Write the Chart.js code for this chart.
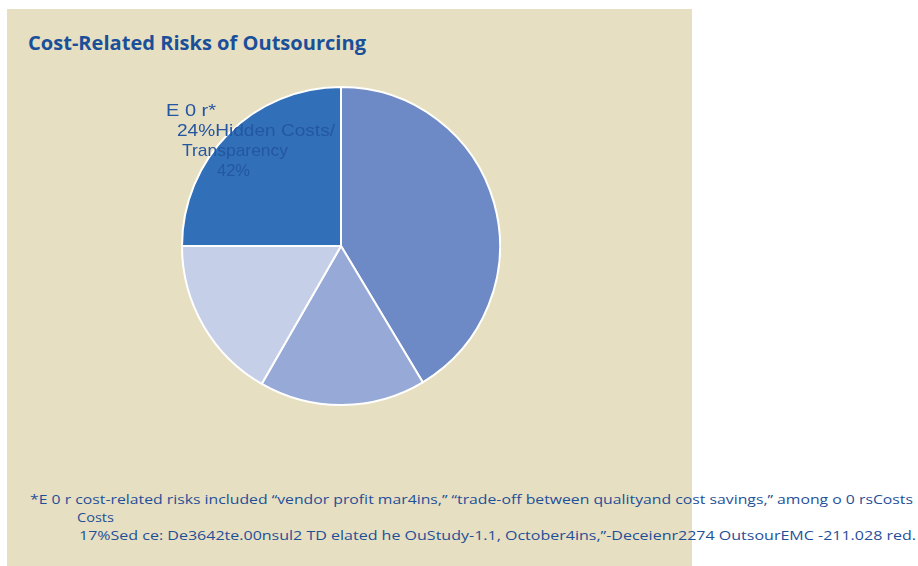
<!DOCTYPE html>
<html>
<head>
<meta charset="utf-8">
<script src="https://cdn.jsdelivr.net/npm/chart.js@4"></script>
<style>
  body { margin: 0; background: #fff; width: 918px; height: 566px; overflow: hidden; position: relative; font-family: "Open Sans", sans-serif; }
  #panel { position: absolute; left: 7px; top: 9px; width: 685px; height: 557px; background: #e6dfc1; }
  #chartBox { position: absolute; left: 181px; top: 86px; width: 320px; height: 320px; }
  .txt { position: absolute; white-space: nowrap; color: #1f4f99; transform-origin: 0 0; }
  #title { left: 28px; top: 30px; font-size: 19px; font-weight: bold; color: #1a4f9a; }
  .lbl { font-family: "Liberation Sans", sans-serif; font-size: 17px; line-height: 17px; color: #2456a2; }
  .foot { font-size: 13px; line-height: 15px; }
</style>
</head>
<body>
<div id="panel"></div>
<div id="chartBox"><canvas id="pieChart" width="320" height="320"></canvas></div>

<div class="txt" id="title" data-w="338">Cost-Related Risks of Outsourcing</div>

<div class="txt lbl" style="left:166px; top:102px;" data-w="50">E 0 r*</div>
<div class="txt lbl" style="left:177px; top:122px;" data-w="158">24%Hidden Costs/</div>
<div class="txt lbl" style="left:182px; top:142px;" data-w="106">Transparency</div>
<div class="txt lbl" style="left:217px; top:162px;" data-w="33">42%</div>

<div class="txt foot" style="left:30px; top:492px;" data-w="883">*E 0 r cost-related risks included “vendor profit mar4ins,” “trade-off between qualityand cost savings,” among o 0 rsCosts</div>
<div class="txt foot" style="left:77px; top:510px;" data-w="37">Costs</div>
<div class="txt foot" style="left:79px; top:528px;" data-w="837">17%Sed ce: De3642te.00nsul2 TD elated he OuStudy-1.1, October4ins,”-Deceienr2274 OutsourEMC -211.028 red.</div>

<script>
// slices clockwise from 12 o'clock, sizes as drawn in the picture
var categories = ['Hidden Costs/ Transparency', 'Costs', 'Costs', 'E 0 r*'];
var shares = [41.4, 16.9, 16.7, 25];
var sliceColors = ['#6e8ac6', '#97aad7', '#c6cfe8', '#3170b8'];

// squeeze each text to the width it has in the picture
document.querySelectorAll('.txt').forEach(function (el) {
    var target = parseFloat(el.getAttribute('data-w'));
    var w = el.getBoundingClientRect().width;
    if (target && w) {
        el.style.transform = 'scaleX(' + (target / w) + ')';
    }
});

var ctx = document.getElementById('pieChart').getContext('2d');
var pieChart = new Chart(ctx, {
    type: 'pie',
    data: {
        labels: categories,
        datasets: [{
            data: shares,
            backgroundColor: sliceColors,
            borderColor: '#ffffff',
            borderWidth: 2
        }]
    },
    options: {
        responsive: false,
        maintainAspectRatio: false,
        animation: false,
        layout: { padding: 0 },
        plugins: {
            legend: { display: false },
            tooltip: { enabled: false }
        }
    }
});
</script>
</body>
</html>
